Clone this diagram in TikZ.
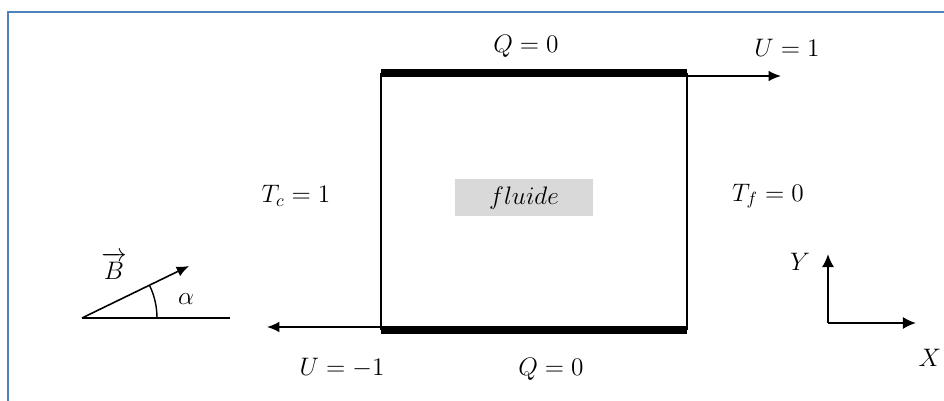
\documentclass[tikz,border=0pt]{standalone}
\usepackage{amsmath}
\usepackage{amssymb}
\usepackage{tikz}
\usetikzlibrary{arrows,arrows.meta}
\usepackage{xcolor}
\definecolor{frameblue}{RGB}{79,129,189}

\begin{document}
\begin{tikzpicture}[x=0.02cm,y=-0.02cm,
		lbl/.style={font=\fontsize{14.5}{17}\selectfont,inner sep=1pt},
		wall/.style={line width=4pt},
		side/.style={line width=1.3pt},
		flow/.style={-{Latex[length=7pt,width=6pt]},line width=0.9pt},
		axis/.style={-{Latex[length=7.5pt,width=7pt]},line width=1.2pt}]
	\useasboundingbox (0,0) rectangle (944,401);
	\draw[frameblue,line width=1.3pt] (944,12) -- (8,12) -- (8,401);
	
	% cavity
	\coordinate (nw) at (381,73);
	\coordinate (ne) at (687,73);
	\coordinate (sw) at (381,330);
	\coordinate (se) at (687,330);
	\draw[side] (nw) -- (sw);
	\draw[side] (ne) -- (se);
	\draw[wall] (nw) -- (ne);
	\draw[wall] (sw) -- (se);
	\node[fill=gray!30,minimum width=2.76cm,minimum height=0.74cm,lbl] (fl) at (524,198) {$fluide$};
	
	% moving walls
	\coordinate (utop) at (687,76);
	\coordinate (utopend) at (781,76);
	\coordinate (ubot) at (381,327);
	\coordinate (ubotend) at (267,327);
	\draw[flow] (utop) -- (utopend);
	\draw[flow] (ubot) -- (ubotend);
	
	\node[lbl] (qtop) at (526,46) {$Q=0$};
	\node[lbl] (qbot) at (551,369) {$Q=0$};
	\node[lbl] (uone) at (787,48) {$U=1$};
	\node[lbl] (umone) at (342,368) {$U=-1$};
	\node[lbl] (tc) at (296,196) {$T_c=1$};
	\node[lbl] (tf) at (768,196) {$T_f=0$};
	
	% magnetic field
	\coordinate (bo) at (82,318);
	\coordinate (bh) at (230,318);
	\coordinate (btip) at (189,266);
	\draw[line width=0.9pt] (bo) -- (bh);
	\draw[flow] (bo) -- (btip);
	\draw[line width=0.8pt] (157,318) arc[start angle=0,end angle=-25.8,radius=75];
	\node[lbl] (bl) at (114,266) {$\overrightarrow{B}$};
	\node[lbl] (al) at (186,299) {$\alpha$};
	
	% axes
	\coordinate (o) at (828,323);
	\coordinate (yend) at (828,254);
	\coordinate (xend) at (916,323);
	\draw[axis] (o) -- (yend);
	\draw[axis] (o) -- (xend);
	\node[lbl] (yl) at (800,262) {$Y$};
	\node[lbl] (xl) at (930,358) {$X$};
\end{tikzpicture}
\end{document}
